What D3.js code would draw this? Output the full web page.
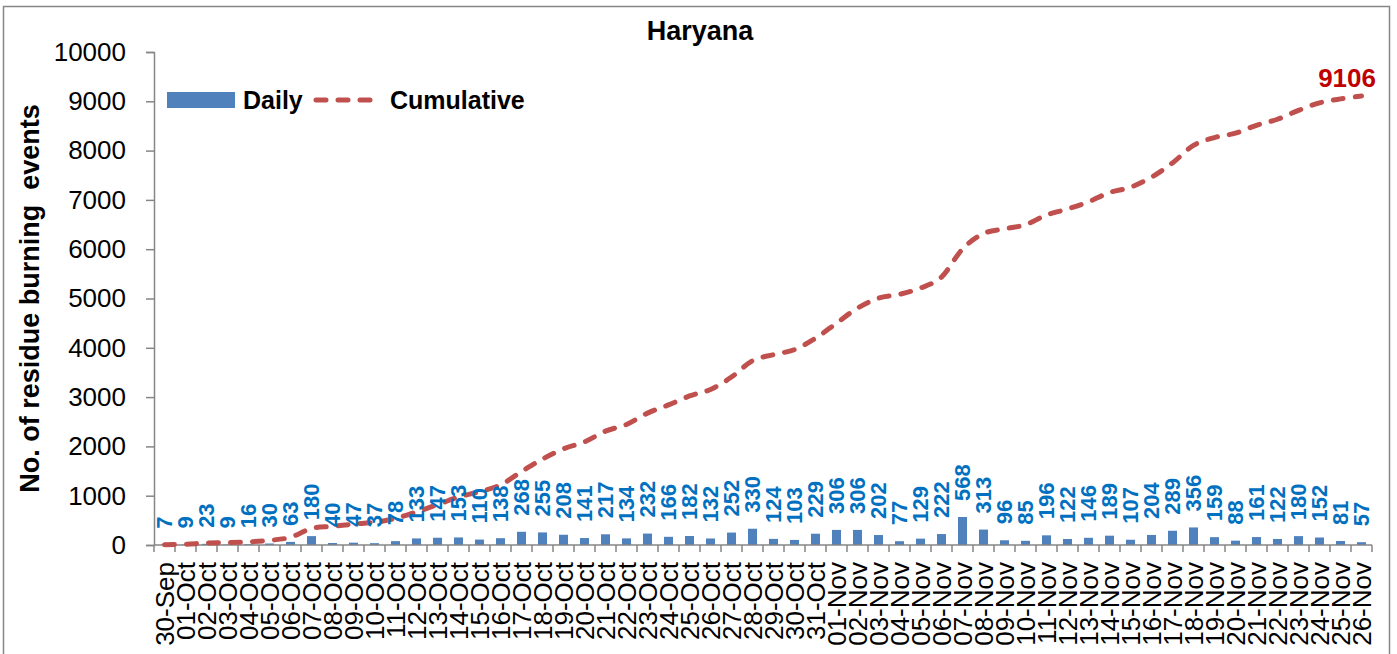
<!DOCTYPE html>
<html>
<head>
<meta charset="utf-8">
<script src="https://cdn.jsdelivr.net/npm/d3@7"></script>
<style>
  html, body { margin: 0; padding: 0; background: #fff; }
  svg { display: block; }
</style>
</head>
<body>
<svg id="chart" width="1397" height="654"></svg>
<script>
const dates = ["30-Sep","01-Oct","02-Oct","03-Oct","04-Oct","05-Oct","06-Oct","07-Oct","08-Oct","09-Oct","10-Oct","11-Oct","12-Oct","13-Oct","14-Oct","15-Oct","16-Oct","17-Oct","18-Oct","19-Oct","20-Oct","21-Oct","22-Oct","23-Oct","24-Oct","25-Oct","26-Oct","27-Oct","28-Oct","29-Oct","30-Oct","31-Oct","01-Nov","02-Nov","03-Nov","04-Nov","05-Nov","06-Nov","07-Nov","08-Nov","09-Nov","10-Nov","11-Nov","12-Nov","13-Nov","14-Nov","15-Nov","16-Nov","17-Nov","18-Nov","19-Nov","20-Nov","21-Nov","22-Nov","23-Nov","24-Nov","25-Nov","26-Nov"];
const daily = [7,9,23,9,16,30,63,180,40,47,37,78,133,147,153,110,138,268,255,208,141,217,134,232,166,182,132,252,330,124,103,229,306,306,202,77,129,222,568,313,96,85,196,122,146,189,107,204,289,356,159,88,161,122,180,152,81,57];
const cumulative = [7,16,39,48,64,94,157,337,377,424,461,539,672,819,972,1082,1220,1488,1743,1951,2092,2309,2443,2675,2841,3023,3155,3407,3737,3861,3964,4193,4499,4805,5007,5084,5213,5435,6003,6316,6412,6497,6693,6815,6961,7150,7257,7461,7750,8106,8265,8353,8514,8636,8816,8968,9049,9106];
const yTicks = [0,1000,2000,3000,4000,5000,6000,7000,8000,9000,10000];
const title = "Haryana";
const yTitle = "No. of residue burning\u00a0 events";
const seriesNames = ["Daily", "Cumulative"];

const svg = d3.select("#chart");
const W = 1397, H = 654;
const L = 154, R = 1372, T = 52, B = 545;
const axisColor = "#868686";
const barColor = "#4F81BD";
const lineColor = "#C0504D";
const font = "'Liberation Sans', Arial, sans-serif";

svg.append("rect").attr("width", W).attr("height", H).attr("fill", "#fff");
// outer border
svg.append("rect").attr("x", 3.5).attr("y", 6.5).attr("width", 1386).attr("height", 700)
  .attr("fill", "none").attr("stroke", axisColor).attr("stroke-width", 1.5);

const x = d3.scaleBand().domain(dates).range([L, R]).paddingInner(0.57).paddingOuter(0.285);
const xb = d3.scaleLinear().domain([0, dates.length]).range([L, R]);
const y = d3.scaleLinear().domain([0, 10000]).range([B, T]);
const cx = d => x(d) + x.bandwidth() / 2;

// title
svg.append("text").attr("x", 700).attr("y", 40).attr("text-anchor", "middle")
  .attr("font-family", font).attr("font-weight", "bold").attr("font-size", 27)
  .text(title);

// y axis
const yAxis = svg.append("g").attr("transform", `translate(${L},0)`)
  .call(d3.axisLeft(y).tickValues(yTicks).tickSize(8).tickPadding(20).tickFormat(d3.format("d")));
yAxis.select(".domain").attr("stroke", axisColor).attr("stroke-width", 1.5);
yAxis.selectAll(".tick line").attr("stroke", axisColor).attr("stroke-width", 1.5);
yAxis.selectAll(".tick text").attr("font-family", font).attr("font-size", 26).attr("fill", "#000");

// y title
svg.append("text").attr("transform", `translate(39,${(T + B) / 2}) rotate(-90)`)
  .attr("text-anchor", "middle").attr("font-family", font).attr("font-weight", "bold")
  .attr("font-size", 27).text(yTitle);

// bars
svg.append("g").selectAll("rect").data(dates).join("rect")
  .attr("x", d => x(d)).attr("width", x.bandwidth())
  .attr("y", (d, i) => y(daily[i])).attr("height", (d, i) => B - y(daily[i]))
  .attr("fill", barColor);

// x axis
const xAxis = svg.append("g").attr("transform", `translate(0,${B})`)
  .call(d3.axisBottom(x).tickSize(0).tickPadding(0));
xAxis.select(".domain").remove();
xAxis.selectAll(".tick text").attr("font-family", font).attr("font-size", 26).attr("fill", "#000")
  .attr("text-anchor", "end").attr("transform", "translate(0,17) rotate(-90)")
  .attr("x", 0).attr("y", 0).attr("dy", "0.35em");
svg.append("line").attr("x1", L).attr("x2", R).attr("y1", B).attr("y2", B)
  .attr("stroke", axisColor).attr("stroke-width", 1.5);
svg.append("g").selectAll("line").data(d3.range(dates.length + 1)).join("line")
  .attr("x1", i => xb(i)).attr("x2", i => xb(i)).attr("y1", B).attr("y2", B + 7)
  .attr("stroke", axisColor).attr("stroke-width", 1.5);

// cumulative line
const line = d3.line().x((d, i) => cx(dates[i])).y(d => y(d)).curve(d3.curveCardinal.tension(0));
svg.append("path").datum(cumulative).attr("d", line).attr("fill", "none")
  .attr("stroke", lineColor).attr("stroke-width", 5).attr("stroke-linecap", "round")
  .attr("stroke-dasharray", "10,12");

// daily labels
svg.append("g").selectAll("text").data(dates).join("text")
  .attr("transform", (d, i) => `translate(${cx(d)},${y(daily[i]) - 16}) rotate(-90)`)
  .attr("dy", "0.35em").attr("text-anchor", "start")
  .attr("font-family", font).attr("font-weight", "bold").attr("font-size", 22)
  .attr("fill", "#0070C0").text((d, i) => daily[i]);

// last cumulative label
const lastI = cumulative.length - 1;
svg.append("text").attr("x", 1376).attr("y", y(cumulative[lastI]) - 9)
  .attr("text-anchor", "end").attr("font-family", font).attr("font-weight", "bold")
  .attr("font-size", 26).attr("fill", "#C00000").text(cumulative[lastI]);

// legend
const lg = svg.append("g");
lg.append("rect").attr("x", 167).attr("y", 92).attr("width", 68).attr("height", 16).attr("fill", barColor);
lg.append("text").attr("x", 243).attr("y", 109).attr("font-family", font).attr("font-weight", "bold")
  .attr("font-size", 25).text(seriesNames[0]);
lg.append("line").attr("x1", 316).attr("x2", 371).attr("y1", 100).attr("y2", 100)
  .attr("stroke", lineColor).attr("stroke-width", 5).attr("stroke-linecap", "round")
  .attr("stroke-dasharray", "10,12");
lg.append("text").attr("x", 390).attr("y", 109).attr("font-family", font).attr("font-weight", "bold")
  .attr("font-size", 25).text(seriesNames[1]);
</script>
</body>
</html>
